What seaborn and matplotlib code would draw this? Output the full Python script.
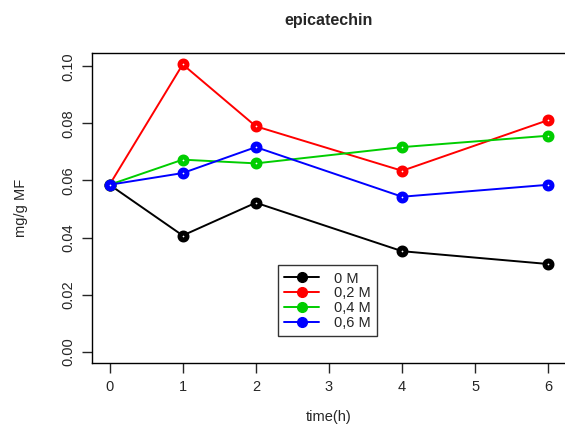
import matplotlib
matplotlib.use("Agg")
import matplotlib.pyplot as plt
from matplotlib.lines import Line2D
import seaborn as sns
import pandas as pd

# Données
temps = [0, 1, 2, 4, 6]
conc_0M = [0.0585, 0.0407, 0.0522, 0.0352, 0.0307]
conc_02M = [0.0585, 0.1007, 0.0790, 0.0634, 0.0812]
conc_04M = [0.0585, 0.0673, 0.0660, 0.0717, 0.0757]
conc_06M = [0.0585, 0.0626, 0.0717, 0.0543, 0.0585]
groupes = ["0 M", "0,2 M", "0,4 M", "0,6 M"]
couleurs = ["black", "#FF0000", "#00CD00", "#0000FF"]

df = pd.DataFrame({
    "temps": temps * 4,
    "conc": conc_0M + conc_02M + conc_04M + conc_06M,
    "groupe": [g for g in groupes for _ in temps],
})

sns.set_style("white")
plt.rcParams["font.family"] = ["Liberation Sans", "DejaVu Sans"]

fig = plt.figure(figsize=(5.65, 4.25), dpi=100)
ax = fig.add_axes([92 / 565, 62 / 425, 474 / 565, 310 / 425])

sns.lineplot(data=df, x="temps", y="conc", hue="groupe", hue_order=groupes,
             palette=couleurs, marker="o", markersize=5, markerfacecolor="white",
             markeredgewidth=3.6, linewidth=1.4, legend=False, ax=ax)
for line, c in zip(ax.lines, couleurs):
    line.set_markeredgecolor(c)

ax.set_xlim(-0.24, 6.24)
ax.set_ylim(-0.004, 0.1047)
ax.set_xticks(range(7))
ax.set_yticks([0.0, 0.02, 0.04, 0.06, 0.08, 0.10])
ax.set_yticklabels(["0.00", "0.02", "0.04", "0.06", "0.08", "0.10"], rotation=90, va="center")
ax.tick_params(axis="both", direction="out", length=7, width=1, labelsize=10.5, pad=5,
               bottom=True, left=True)
for s in ax.spines.values():
    s.set_visible(True)
    s.set_color("black")
    s.set_linewidth(1)

ax.set_xlabel("time(h)", fontsize=10.5, labelpad=12)
ax.set_ylabel("mg/g MF", fontsize=10.5, labelpad=24)
ax.set_title("epicatechin", fontsize=11.5, fontweight="bold", pad=20)

poignees = [Line2D([0], [0], color=c, marker="o", markersize=7, lw=1.4) for c in couleurs]
leg = ax.legend(poignees, groupes, loc="upper left", bbox_to_anchor=(0.392, 0.316),
                borderaxespad=0, frameon=True, fancybox=False, edgecolor="black",
                fontsize=10.5, handlelength=2.4, borderpad=0.45, labelspacing=0.05,
                handletextpad=1.0)
leg.get_frame().set_linewidth(1)

fig.savefig("out.png", dpi=100)
